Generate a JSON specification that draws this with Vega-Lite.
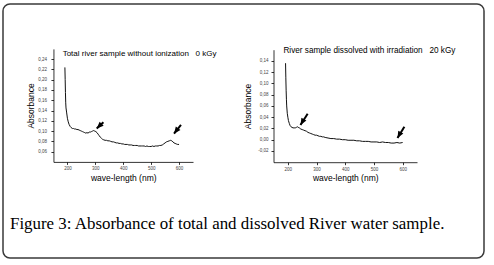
{
  "$schema": "https://vega.github.io/schema/vega-lite/v6.json",
  "width": 481,
  "height": 254,
  "autosize": "none",
  "padding": {"left": 3, "top": 4, "right": 10, "bottom": 7},
  "background": "white",
  "config": {
    "view": {"stroke": "#3a3a3a", "strokeWidth": 1.5, "cornerRadius": 7},
    "font": "Liberation Sans",
    "axis": {
      "grid": false,
      "domainColor": "#000",
      "domainWidth": 0.8,
      "tickColor": "#000",
      "tickWidth": 0.8,
      "tickSize": 2.5,
      "tickCount": 50,
      "labelFont": "Liberation Sans",
      "labelFontSize": 4.5,
      "labelColor": "#444",
      "labelOverlap": false,
      "titleFont": "Liberation Sans",
      "titleFontSize": 8.5,
      "titleFontWeight": "normal",
      "titleColor": "#000"
    }
  },
  "title": {
    "text": "Figure 3: Absorbance of total and dissolved River water sample.",
    "orient": "bottom",
    "anchor": "start",
    "frame": "group",
    "offset": -29,
    "dx": 7,
    "baseline": "alphabetic",
    "font": "Liberation Serif",
    "fontSize": 16.9,
    "fontWeight": "normal",
    "color": "#000"
  },
  "datasets": {
    "left": [
      {"nm": 191, "abs": 0.224}, {"nm": 192, "abs": 0.2}, {"nm": 193, "abs": 0.175}, {"nm": 194, "abs": 0.155},
      {"nm": 195, "abs": 0.145}, {"nm": 197, "abs": 0.137}, {"nm": 200, "abs": 0.125}, {"nm": 203, "abs": 0.118},
      {"nm": 206, "abs": 0.113}, {"nm": 210, "abs": 0.109}, {"nm": 213, "abs": 0.107}, {"nm": 218, "abs": 0.105},
      {"nm": 222, "abs": 0.105}, {"nm": 226, "abs": 0.104}, {"nm": 230, "abs": 0.104}, {"nm": 234, "abs": 0.103},
      {"nm": 238, "abs": 0.103}, {"nm": 242, "abs": 0.102}, {"nm": 246, "abs": 0.101}, {"nm": 250, "abs": 0.1},
      {"nm": 254, "abs": 0.099}, {"nm": 258, "abs": 0.098}, {"nm": 262, "abs": 0.097}, {"nm": 266, "abs": 0.096},
      {"nm": 270, "abs": 0.097}, {"nm": 274, "abs": 0.096}, {"nm": 278, "abs": 0.098}, {"nm": 282, "abs": 0.098},
      {"nm": 286, "abs": 0.099}, {"nm": 290, "abs": 0.1}, {"nm": 294, "abs": 0.101}, {"nm": 298, "abs": 0.1},
      {"nm": 302, "abs": 0.099}, {"nm": 306, "abs": 0.097}, {"nm": 310, "abs": 0.094}, {"nm": 314, "abs": 0.091},
      {"nm": 318, "abs": 0.088}, {"nm": 322, "abs": 0.086}, {"nm": 326, "abs": 0.084}, {"nm": 330, "abs": 0.083},
      {"nm": 335, "abs": 0.082}, {"nm": 340, "abs": 0.082}, {"nm": 345, "abs": 0.081}, {"nm": 350, "abs": 0.081},
      {"nm": 355, "abs": 0.08}, {"nm": 360, "abs": 0.079}, {"nm": 365, "abs": 0.079}, {"nm": 370, "abs": 0.078},
      {"nm": 375, "abs": 0.077}, {"nm": 380, "abs": 0.077}, {"nm": 385, "abs": 0.076}, {"nm": 390, "abs": 0.076},
      {"nm": 395, "abs": 0.075}, {"nm": 400, "abs": 0.075}, {"nm": 405, "abs": 0.074}, {"nm": 410, "abs": 0.074},
      {"nm": 415, "abs": 0.074}, {"nm": 420, "abs": 0.073}, {"nm": 425, "abs": 0.073}, {"nm": 430, "abs": 0.073},
      {"nm": 435, "abs": 0.072}, {"nm": 440, "abs": 0.072}, {"nm": 445, "abs": 0.072}, {"nm": 450, "abs": 0.072},
      {"nm": 455, "abs": 0.071}, {"nm": 460, "abs": 0.071}, {"nm": 465, "abs": 0.071}, {"nm": 470, "abs": 0.071},
      {"nm": 475, "abs": 0.071}, {"nm": 480, "abs": 0.07}, {"nm": 485, "abs": 0.071}, {"nm": 490, "abs": 0.07},
      {"nm": 495, "abs": 0.07}, {"nm": 500, "abs": 0.07}, {"nm": 505, "abs": 0.071}, {"nm": 510, "abs": 0.07},
      {"nm": 515, "abs": 0.071}, {"nm": 520, "abs": 0.071}, {"nm": 525, "abs": 0.071}, {"nm": 530, "abs": 0.072},
      {"nm": 535, "abs": 0.072}, {"nm": 540, "abs": 0.073}, {"nm": 545, "abs": 0.075}, {"nm": 550, "abs": 0.077},
      {"nm": 555, "abs": 0.079}, {"nm": 560, "abs": 0.08}, {"nm": 565, "abs": 0.081}, {"nm": 570, "abs": 0.082},
      {"nm": 574, "abs": 0.081}, {"nm": 578, "abs": 0.079}, {"nm": 582, "abs": 0.077}, {"nm": 586, "abs": 0.076},
      {"nm": 590, "abs": 0.075}, {"nm": 595, "abs": 0.074}, {"nm": 600, "abs": 0.074}
    ],
    "right": [
      {"nm": 192, "abs": 0.136}, {"nm": 193, "abs": 0.11}, {"nm": 194, "abs": 0.088}, {"nm": 195, "abs": 0.072},
      {"nm": 196, "abs": 0.06}, {"nm": 198, "abs": 0.047}, {"nm": 200, "abs": 0.04}, {"nm": 202, "abs": 0.034},
      {"nm": 205, "abs": 0.029}, {"nm": 208, "abs": 0.025}, {"nm": 211, "abs": 0.023}, {"nm": 214, "abs": 0.022},
      {"nm": 218, "abs": 0.021}, {"nm": 222, "abs": 0.021}, {"nm": 226, "abs": 0.021}, {"nm": 230, "abs": 0.022},
      {"nm": 233, "abs": 0.023}, {"nm": 236, "abs": 0.022}, {"nm": 240, "abs": 0.021}, {"nm": 245, "abs": 0.019},
      {"nm": 250, "abs": 0.018}, {"nm": 255, "abs": 0.017}, {"nm": 260, "abs": 0.016}, {"nm": 265, "abs": 0.015},
      {"nm": 270, "abs": 0.013}, {"nm": 275, "abs": 0.012}, {"nm": 280, "abs": 0.011}, {"nm": 285, "abs": 0.01},
      {"nm": 290, "abs": 0.009}, {"nm": 295, "abs": 0.008}, {"nm": 300, "abs": 0.008}, {"nm": 305, "abs": 0.007},
      {"nm": 310, "abs": 0.006}, {"nm": 315, "abs": 0.006}, {"nm": 320, "abs": 0.005}, {"nm": 325, "abs": 0.005},
      {"nm": 330, "abs": 0.004}, {"nm": 340, "abs": 0.003}, {"nm": 350, "abs": 0.002}, {"nm": 360, "abs": 0.002},
      {"nm": 370, "abs": 0.001}, {"nm": 380, "abs": 0.001}, {"nm": 390, "abs": 0.0}, {"nm": 400, "abs": 0.0},
      {"nm": 410, "abs": -0.001}, {"nm": 420, "abs": -0.001}, {"nm": 430, "abs": -0.001}, {"nm": 440, "abs": -0.002},
      {"nm": 450, "abs": -0.002}, {"nm": 460, "abs": -0.003}, {"nm": 470, "abs": -0.003}, {"nm": 480, "abs": -0.003},
      {"nm": 490, "abs": -0.004}, {"nm": 500, "abs": -0.004}, {"nm": 510, "abs": -0.004}, {"nm": 520, "abs": -0.005},
      {"nm": 530, "abs": -0.004}, {"nm": 540, "abs": -0.005}, {"nm": 550, "abs": -0.005}, {"nm": 560, "abs": -0.006},
      {"nm": 570, "abs": -0.006}, {"nm": 580, "abs": -0.005}, {"nm": 590, "abs": -0.006}, {"nm": 600, "abs": -0.005}
    ],
    "arrows": [
      {"panel": "left", "id": 1, "nm": 329, "abs": 0.117, "nm2": 305, "abs2": 0.105},
      {"panel": "left", "id": 2, "nm": 607, "abs": 0.112, "nm2": 582, "abs2": 0.095},
      {"panel": "right", "id": 3, "nm": 269, "abs": 0.046, "nm2": 244, "abs2": 0.026},
      {"panel": "right", "id": 4, "nm": 606, "abs": 0.023, "nm2": 582, "abs2": 0.003}
    ],
    "titles": [
      {"panel": "left", "label": "Total river sample without ionization\u00a0\u00a0 0 kGy"},
      {"panel": "right", "label": "River sample dissolved with irradiation\u00a0\u00a0 20 kGy"}
    ]
  },
  "layer": [
    {
      "layer": [
        {
          "data": {"name": "left"},
          "mark": {"type": "line", "color": "#111", "strokeWidth": 1},
          "encoding": {
            "x": {
              "field": "nm", "type": "quantitative",
              "scale": {"domain": [150, 620], "range": [50.45, 190]},
              "axis": {
                "orient": "bottom", "offset": -96.1, "values": [200, 300, 400, 500, 600],
                "labelOverlap": false, "tickCount": 50,
                "title": "wave-length  (nm)", "labelPadding": 1.5, "titlePadding": 3
              }
            },
            "y": {
              "field": "abs", "type": "quantitative",
              "scale": {"domain": [0.045, 0.242], "range": [157.9, 44.9]},
              "axis": {
                "orient": "left", "offset": -50.45,
                "values": [0.06, 0.08, 0.1, 0.12, 0.14, 0.16, 0.18, 0.2, 0.22, 0.24],
                "labelOverlap": false, "tickCount": 50,
                "labelExpr": "replace(format(datum.value, '.2f'), '.', ',')",
                "title": "Absorbance", "labelPadding": 4.5, "titlePadding": 2
              }
            }
          }
        },
        {
          "data": {"name": "arrows"},
          "transform": [{"filter": "datum.panel == 'left'"}],
          "mark": {"type": "rule", "color": "#000", "strokeWidth": 2},
          "encoding": {
            "x": {"field": "nm", "type": "quantitative"},
            "y": {"field": "abs", "type": "quantitative"},
            "x2": {"field": "nm2"},
            "y2": {"field": "abs2"}
          }
        },
        {
          "data": {"name": "arrows"},
          "transform": [{"filter": "datum.id == 1"}],
          "mark": {"type": "point", "shape": "M0,0L-0.55,1.3L0.55,1.3Z", "filled": true, "color": "#000", "opacity": 1, "size": 110, "angle": 226},
          "encoding": {
            "x": {"field": "nm2", "type": "quantitative"},
            "y": {"field": "abs2", "type": "quantitative"}
          }
        },
        {
          "data": {"name": "arrows"},
          "transform": [{"filter": "datum.id == 2"}],
          "mark": {"type": "point", "shape": "M0,0L-0.55,1.3L0.55,1.3Z", "filled": true, "color": "#000", "opacity": 1, "size": 110, "angle": 217},
          "encoding": {
            "x": {"field": "nm2", "type": "quantitative"},
            "y": {"field": "abs2", "type": "quantitative"}
          }
        },
        {
          "data": {"name": "titles"},
          "transform": [{"filter": "datum.panel == 'left'"}],
          "mark": {"type": "text", "align": "left", "baseline": "middle", "fontSize": 8, "font": "Liberation Sans", "color": "#000"},
          "encoding": {
            "x": {"datum": 183, "type": "quantitative"},
            "y": {"datum": 0.2505, "type": "quantitative"},
            "text": {"field": "label"}
          }
        }
      ]
    },
    {
      "layer": [
        {
          "data": {"name": "right"},
          "mark": {"type": "line", "color": "#111", "strokeWidth": 1},
          "encoding": {
            "x": {
              "field": "nm", "type": "quantitative",
              "scale": {"domain": [155, 628], "range": [270.5, 414]},
              "axis": {
                "orient": "bottom", "offset": -95.8, "values": [200, 300, 400, 500, 600],
                "labelOverlap": false, "tickCount": 50,
                "title": "wave-length  (nm)", "labelPadding": 1.5, "titlePadding": 3
              }
            },
            "y": {
              "field": "abs", "type": "quantitative",
              "scale": {"domain": [-0.025, 0.147], "range": [158.2, 45.7]},
              "axis": {
                "orient": "left", "offset": -270.5,
                "values": [-0.02, 0, 0.02, 0.04, 0.06, 0.08, 0.1, 0.12, 0.14],
                "labelOverlap": false, "tickCount": 50,
                "labelExpr": "replace(replace(format(datum.value, '.2f'), '.', ','), '\u2212', '-')",
                "title": "Absorbance", "labelPadding": 3, "titlePadding": 5
              }
            }
          }
        },
        {
          "data": {"name": "arrows"},
          "transform": [{"filter": "datum.panel == 'right'"}],
          "mark": {"type": "rule", "color": "#000", "strokeWidth": 2},
          "encoding": {
            "x": {"field": "nm", "type": "quantitative"},
            "y": {"field": "abs", "type": "quantitative"},
            "x2": {"field": "nm2"},
            "y2": {"field": "abs2"}
          }
        },
        {
          "data": {"name": "arrows"},
          "transform": [{"filter": "datum.id == 3"}],
          "mark": {"type": "point", "shape": "M0,0L-0.55,1.3L0.55,1.3Z", "filled": true, "color": "#000", "opacity": 1, "size": 110, "angle": 210},
          "encoding": {
            "x": {"field": "nm2", "type": "quantitative"},
            "y": {"field": "abs2", "type": "quantitative"}
          }
        },
        {
          "data": {"name": "arrows"},
          "transform": [{"filter": "datum.id == 4"}],
          "mark": {"type": "point", "shape": "M0,0L-0.55,1.3L0.55,1.3Z", "filled": true, "color": "#000", "opacity": 1, "size": 110, "angle": 209},
          "encoding": {
            "x": {"field": "nm2", "type": "quantitative"},
            "y": {"field": "abs2", "type": "quantitative"}
          }
        },
        {
          "data": {"name": "titles"},
          "transform": [{"filter": "datum.panel == 'right'"}],
          "mark": {"type": "text", "align": "left", "baseline": "middle", "fontSize": 8.2, "font": "Liberation Sans", "color": "#000"},
          "encoding": {
            "x": {"datum": 184.5, "type": "quantitative"},
            "y": {"datum": 0.1573, "type": "quantitative"},
            "text": {"field": "label"}
          }
        }
      ]
    }
  ],
  "resolve": {
    "scale": {"x": "independent", "y": "independent"},
    "axis": {"x": "independent", "y": "independent"}
  }
}
